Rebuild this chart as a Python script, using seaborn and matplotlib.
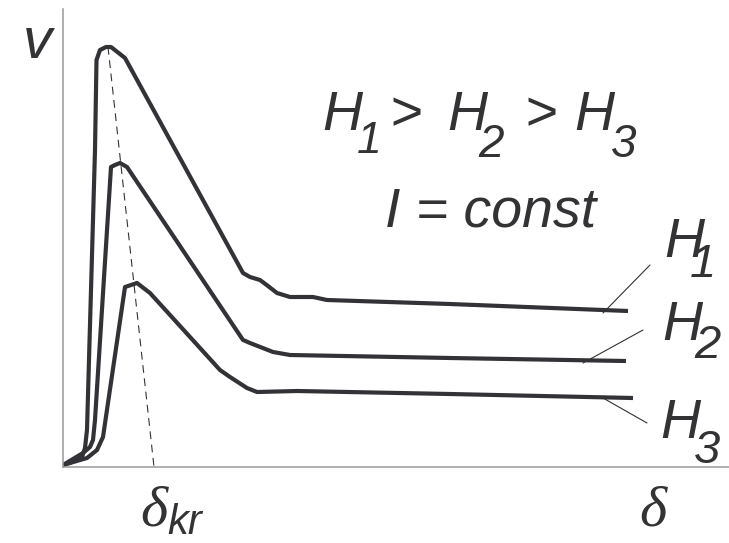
import matplotlib
matplotlib.use("Agg")
import matplotlib.pyplot as plt
import seaborn as sns
import pandas as pd

# ---- data (x = delta, y = v, arbitrary units) ----
h1_x = [0, 12, 19, 22, 24, 32, 33.5, 37, 43, 48, 62, 180, 187, 197, 205, 214, 227, 250, 264, 387, 565]
h1_y = [2, 6, 10, 19, 37, 317, 407, 417, 420, 420, 409, 194, 190, 187, 181, 174, 170, 170, 167, 163, 156]

h2_x = [0, 20, 27, 30, 32, 48, 52, 57, 64, 180, 187, 210, 227, 387, 563]
h2_y = [2, 14, 20, 27, 47, 300, 302, 304, 300, 127, 124, 115, 112, 109, 106]

h3_x = [0, 24, 34, 40, 62, 74, 87, 157, 167, 184, 194, 234, 387, 570]
h3_y = [2, 9, 17, 30, 180, 184, 174, 97, 90, 79, 75, 76, 73, 69]

series_names = ["H1", "H2", "H3"]

# dashed locus of maxima (delta_kr)
kr_x = [45, 91]
kr_y = [420, 0]

# leader lines for the curve labels
lead_h1_x, lead_h1_y = [540, 587], [154, 202]
lead_h2_x, lead_h2_y = [520, 580], [104, 137]
lead_h3_x, lead_h3_y = [540, 584], [69, 44]

frames = []
for name, xs, ys in zip(series_names, [h1_x, h2_x, h3_x], [h1_y, h2_y, h3_y]):
    frames.append(pd.DataFrame({"delta": xs, "v": ys, "H": name}))
df = pd.concat(frames, ignore_index=True)

sns.set_style("white")
plt.rcParams["font.family"] = ["Liberation Sans", "DejaVu Sans"]

W, H = 729, 543
fig = plt.figure(figsize=(W / 100, H / 100), dpi=100)
ax = fig.add_axes([63 / W, (H - 467) / H, (W - 63) / W, (467 - 9) / H])

line_color = "#333337"
sns.lineplot(data=df, x="delta", y="v", hue="H", units="H", estimator=None, sort=False,
             palette=[line_color] * 3, linewidth=3.0, legend=False, ax=ax,
             solid_joinstyle="round", solid_capstyle="butt")

ax.plot(kr_x, kr_y, color="#333333", linewidth=0.8, linestyle=(0, (7, 5)))
for lx, ly in [(lead_h1_x, lead_h1_y), (lead_h2_x, lead_h2_y), (lead_h3_x, lead_h3_y)]:
    ax.plot(lx, ly, color="#333333", linewidth=0.8)

ax.set_xlim(0, 666)
ax.set_ylim(0, 458)
ax.set_xticks([])
ax.set_yticks([])
ax.set_xlabel("")
ax.set_ylabel("")
for side in ["top", "right"]:
    ax.spines[side].set_visible(False)
for side in ["left", "bottom"]:
    ax.spines[side].set_color("#999999")
    ax.spines[side].set_linewidth(1.1)

txt_color = "#333336"


def ftext(px, py, s, size, family=("Liberation Sans", "DejaVu Sans")):
    fig.text(px / W, 1 - py / H, s, fontsize=size, style="italic", color=txt_color,
             ha="left", va="baseline", family=list(family))


# top annotation: H1 > H2 > H3
ftext(322, 130, "H", 40)
ftext(357, 153, "1", 32)
ftext(389, 130, ">", 40)
ftext(447, 130, "H", 40)
ftext(478, 157, "2", 33)
ftext(524, 130, ">", 40)
ftext(574, 130, "H", 40)
ftext(611, 157, "3", 33)

ftext(385, 227, "I = const", 40)

# curve labels
ftext(664, 257, "H", 40)
ftext(690, 277, "1", 34)
ftext(662, 340, "H", 40)
ftext(694, 358, "2", 34)
ftext(660, 438, "H", 40)
ftext(694, 463, "3", 34)

# axis labels
ftext(23, 58, "v", 42)
ftext(140, 526, "δ", 42, family=("Liberation Serif", "DejaVu Serif"))
ftext(167, 534, "kr", 30)
ftext(639, 526, "δ", 42, family=("Liberation Serif", "DejaVu Serif"))

fig.savefig("out.png", dpi=100)
